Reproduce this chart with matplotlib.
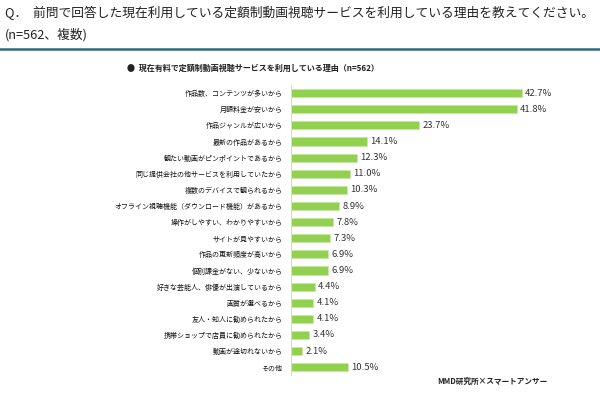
import matplotlib
matplotlib.use("Agg")
import matplotlib.pyplot as plt

plt.rcParams['font.family'] = ['Noto Sans CJK JP', 'DejaVu Sans']

reasons = [
    "作品数、コンテンツが多いから",
    "月額料金が安いから",
    "作品ジャンルが広いから",
    "最新の作品があるから",
    "観たい動画がピンポイントであるから",
    "同じ提供会社の他サービスを利用していたから",
    "複数のデバイスで観られるから",
    "オフライン視聴機能（ダウンロード機能）があるから",
    "操作がしやすい、わかりやすいから",
    "サイトが見やすいから",
    "作品の更新頻度が高いから",
    "個別課金がない、少ないから",
    "好きな芸能人、俳優が出演しているから",
    "画質が選べるから",
    "友人・知人に勧められたから",
    "携帯ショップで店員に勧められたから",
    "動画が途切れないから",
    "その他",
]
values = [42.7, 41.8, 23.7, 14.1, 12.3, 11.0, 10.3, 8.9, 7.8, 7.3,
          6.9, 6.9, 4.4, 4.1, 4.1, 3.4, 2.1, 10.5]

title1 = "Q．  前問で回答した現在利用している定額制動画視聴サービスを利用している理由を教えてください。"
title2 = "(n=562、複数)"
subtitle = "●  現在有料で定額制動画視聴サービスを利用している理由（n=562）"
source = "MMD研究所×スマートアンサー"

W, H = 600, 393
fig = plt.figure(figsize=(W / 100, H / 100), dpi=100)

# header
fig.text(5 / W, 1 - 13 / H, title1, fontsize=9.2, color="#222222", va="center", ha="left")
fig.text(5 / W, 1 - 35 / H, title2, fontsize=9.2, color="#222222", va="center", ha="left")
fig.add_artist(plt.Line2D([0, 1], [1 - 48.5 / H, 1 - 48.5 / H], color="#2f6b78", lw=1.8))
fig.text(127 / W, 1 - 68 / H, subtitle, fontsize=5.8, fontweight="bold", color="#222222",
         va="center", ha="left")

# chart
ax = fig.add_axes([291 / W, 1 - 375.3 / H, 300 / W, (375.3 - 85.1) / H])
y = list(range(len(values)))
ax.barh(y, values, height=0.5, color="#92d050", edgecolor="#c8e8a8", linewidth=0.4)
for yi, v in zip(y, values):
    ax.text(v + 0.6, yi, f"{v:.1f}%", fontsize=6.8, color="#333333", va="center", ha="left")

ax.set_xlim(0, 300 / 5.40)
ax.set_ylim(len(values) - 0.5, -0.5)
ax.set_yticks(y)
ax.set_yticklabels(reasons, fontsize=5.0, color="#111111")
ax.tick_params(axis="y", length=0, pad=6)
ax.set_xticks([])
for s in ["top", "right", "bottom"]:
    ax.spines[s].set_visible(False)
ax.spines["left"].set_color("#d9d9d9")
ax.spines["left"].set_linewidth(0.8)

fig.text(437 / W, 1 - 381 / H, source, fontsize=5.5, fontweight="bold", color="#222222",
         va="center", ha="left")

fig.savefig("out.png", dpi=100)
